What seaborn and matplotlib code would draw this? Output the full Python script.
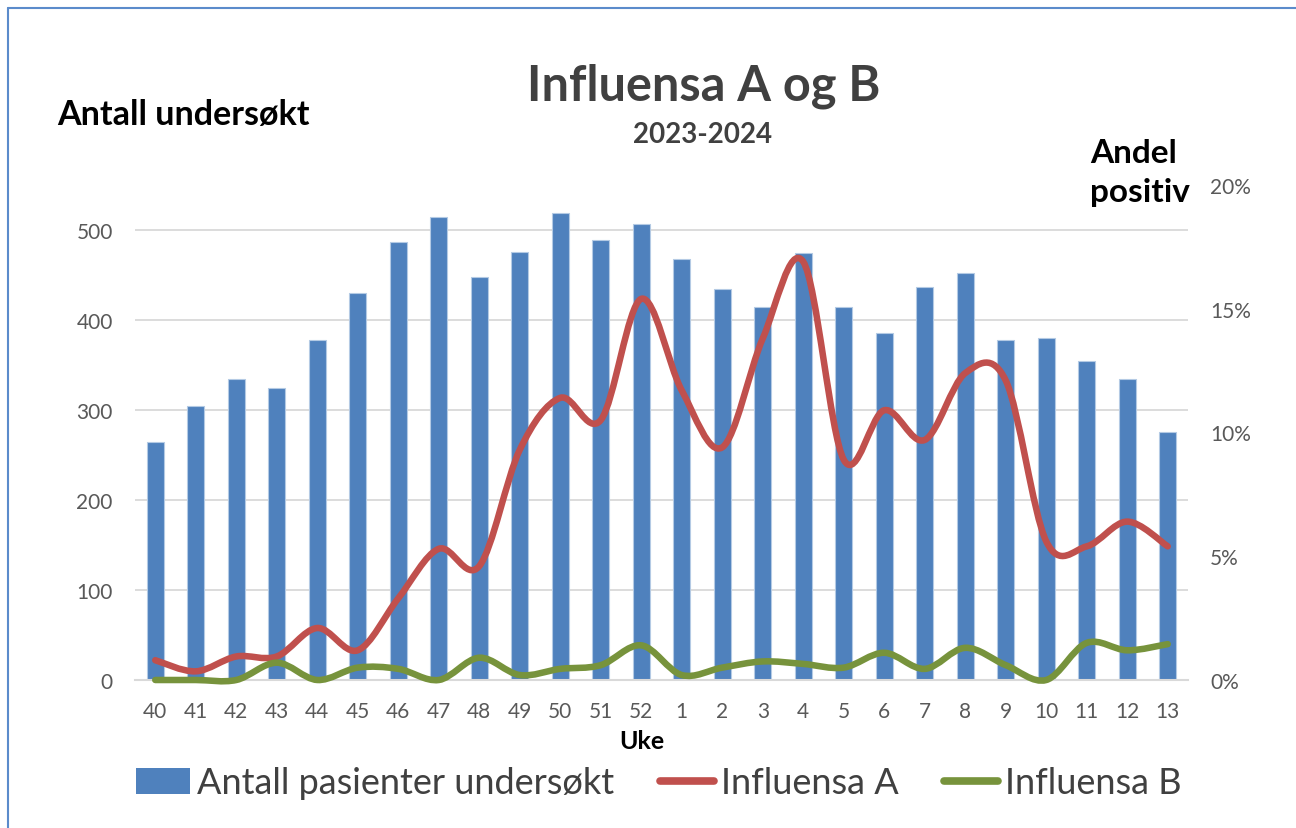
import numpy as np
import pandas as pd
import seaborn as sns
import matplotlib.pyplot as plt
from matplotlib.path import Path
from matplotlib.patches import PathPatch, Patch
from matplotlib.lines import Line2D

# Data
weeks = ["40", "41", "42", "43", "44", "45", "46", "47", "48", "49", "50", "51", "52",
         "1", "2", "3", "4", "5", "6", "7", "8", "9", "10", "11", "12", "13"]
examined = [264, 305, 334, 324, 378, 430, 487, 515, 448, 476, 519, 489, 507,
            468, 435, 414, 474, 415, 386, 437, 452, 378, 380, 354, 334, 276]
flu_a = [0.8, 0.35, 0.95, 0.95, 2.1, 1.2, 3.3, 5.3, 4.6, 9.3, 11.4, 10.5, 15.4,
         11.7, 9.4, 13.8, 16.9, 8.9, 10.9, 9.7, 12.4, 12.1, 5.6, 5.4, 6.4, 5.4]
flu_b = [0.0, 0.0, 0.0, 0.7, 0.0, 0.5, 0.45, 0.0, 0.9, 0.2, 0.45, 0.6, 1.4,
         0.2, 0.5, 0.75, 0.65, 0.5, 1.1, 0.45, 1.3, 0.6, 0.0, 1.5, 1.2, 1.45]

BLUE = "#4F81BD"
RED = "#C0504D"
GREEN = "#77933C"

df = pd.DataFrame({"uke": weeks, "antall": examined})


def smooth_path(ys):
    # Excel-style smoothed line: cubic bezier through every point
    xs = list(range(len(ys)))
    n = len(xs)
    verts = [(xs[0], ys[0])]
    codes = [Path.MOVETO]
    for i in range(n - 1):
        a = max(i - 1, 0)
        d = min(i + 2, n - 1)
        c1 = (xs[i] + (xs[i + 1] - xs[a]) / 6, ys[i] + (ys[i + 1] - ys[a]) / 6)
        c2 = (xs[i + 1] - (xs[d] - xs[i]) / 6, ys[i + 1] - (ys[d] - ys[i]) / 6)
        verts += [c1, c2, (xs[i + 1], ys[i + 1])]
        codes += [Path.CURVE4] * 3
    return Path(verts, codes)


sns.set_theme(style="white")
plt.rcParams["font.family"] = ["Lato", "DejaVu Sans"]

fig = plt.figure(figsize=(12.96, 8.29), dpi=100)
ax = fig.add_axes([135 / 1296, 1 - 681 / 829, (1188 - 135) / 1296, (681 - 186) / 829])

sns.barplot(data=df, x="uke", y="antall", order=weeks, color=BLUE, saturation=1,
            width=0.41, linewidth=0.8, edgecolor="#B4CAE4", ax=ax)
ax.set_xlim(-0.5, len(weeks) - 0.5)
ax.set_ylim(0, 550)
ax.set_yticks([0, 100, 200, 300, 400, 500])
ax.yaxis.grid(True, color="#D9D9D9", linewidth=1.3)
ax.set_axisbelow(True)
for s in ["top", "right", "left"]:
    ax.spines[s].set_visible(False)
ax.spines["bottom"].set_color("#D9D9D9")
ax.spines["bottom"].set_linewidth(1.5)
ax.set_xlabel("")
ax.set_ylabel("")
ax.tick_params(axis="both", length=0, labelsize=15, labelcolor="#595959")
ax.tick_params(axis="y", pad=16)
ax.tick_params(axis="x", pad=15)

ax2 = ax.twinx()
ax2.set_ylim(0, 20)
ax2.set_yticks([0, 5, 10, 15, 20])
ax2.set_yticklabels([f"{t}%" for t in [0, 5, 10, 15, 20]])
ax2.tick_params(axis="y", length=0, labelsize=15, labelcolor="#595959", pad=16)
for s in ["top", "right", "left", "bottom"]:
    ax2.spines[s].set_visible(False)
ax2.grid(False)

for vals, col in [(flu_a, RED), (flu_b, GREEN)]:
    patch = PathPatch(smooth_path(vals), facecolor="none", edgecolor=col, linewidth=4.7,
                      capstyle="round", joinstyle="round", clip_on=False)
    ax2.add_patch(patch)

# texts
fig.text(704 / 1296, 1 - 86 / 829, "Influensa A og B", ha="center", va="center",
         fontsize=35, fontweight="bold", color="#404040")
fig.text(703 / 1296, 1 - 135 / 829, "2023-2024", ha="center", va="center",
         fontsize=20, fontweight="bold", color="#404040")
fig.text(57 / 1296, 1 - 115 / 829, "Antall undersøkt", ha="left", va="center",
         fontsize=24.5, fontweight="bold", color="black")
fig.text(1090 / 1296, 1 - 173 / 829, "Andel\npositiv", ha="left", va="center",
         fontsize=24, fontweight="bold", color="black", linespacing=1.45)
fig.text(642 / 1296, 1 - 742 / 829, "Uke", ha="center", va="center",
         fontsize=18, fontweight="bold", color="black")

handles = [Patch(facecolor=BLUE, edgecolor="none"),
           Line2D([0], [0], color=RED, linewidth=5.5, solid_capstyle="round"),
           Line2D([0], [0], color=GREEN, linewidth=5.5, solid_capstyle="round")]
labels = ["Antall pasienter undersøkt", "Influensa A", "Influensa B"]
leg = fig.legend(handles, labels, loc="center", bbox_to_anchor=(659 / 1296, 1 - 784 / 829),
                 ncol=3, frameon=False, fontsize=26, handlelength=1.5, handleheight=0.75,
                 handletextpad=0.2, columnspacing=1.25)
for t in leg.get_texts():
    t.set_color("#404040")

# chart frame (top and left edges visible in the reference)
fig.add_artist(Line2D([8 / 1296, 8 / 1296], [0, 1 - 9 / 829], color="#5B8BCB", linewidth=1.5))
fig.add_artist(Line2D([8 / 1296, 1], [1 - 9 / 829, 1 - 9 / 829], color="#5B8BCB", linewidth=1.5))

fig.savefig("out.png", dpi=100)
